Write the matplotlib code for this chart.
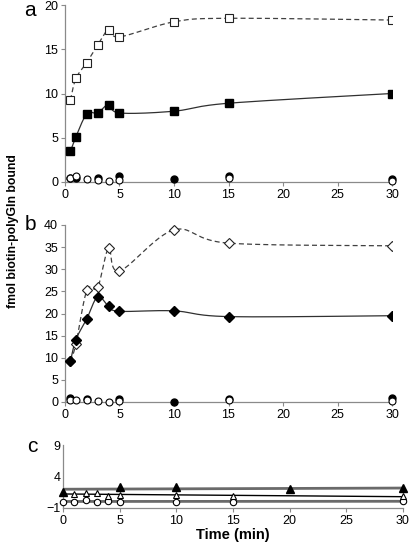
import numpy as np
import matplotlib
matplotlib.use("Agg")
import matplotlib.pyplot as plt

plt.rcParams['font.family'] = ['Liberation Sans', 'DejaVu Sans']

# ---- data ----
t_a = [0.5, 1, 2, 3, 4, 5, 10, 15, 30]
a_open_sq = [9.25, 11.7, 13.5, 15.5, 17.2, 16.4, 18.1, 18.5, 18.3]
a_fill_sq = [3.5, 5.1, 7.7, 7.8, 8.75, 7.8, 8.0, 8.9, 10.0]
a_fill_c_t = [0.5, 1, 3, 5, 10, 15, 30]
a_fill_c = [0.5, 0.4, 0.5, 0.7, 0.3, 0.7, 0.3]
a_open_c_t = [0.5, 1, 2, 3, 4, 5, 15, 30]
a_open_c = [0.5, 0.7, 0.35, 0.2, 0.1, 0.2, 0.4, 0.15]

t_b = [0.5, 1, 2, 3, 4, 5, 10, 15, 30]
b_open_d = [9.2, 13.1, 25.2, 25.9, 34.7, 29.6, 38.9, 35.9, 35.3]
b_fill_d = [9.2, 14.1, 18.8, 23.8, 21.6, 20.5, 20.6, 19.3, 19.5]
b_fill_c_t = [0.5, 2, 5, 10, 15, 30]
b_fill_c = [1.0, 0.7, 0.7, 0.0, 0.6, 1.0]
b_open_c_t = [0.5, 1, 2, 3, 4, 5, 15, 30]
b_open_c = [0.5, 0.4, 0.4, 0.3, 0.1, 0.3, 0.4, 0.2]

c_fill_tri_t = [0, 5, 10, 20, 30]
c_fill_tri = [1.6, 2.3, 2.3, 2.0, 2.1]
c_open_tri_t = [1, 2, 3, 4, 5, 10, 15, 30]
c_open_tri = [1.3, 1.4, 1.4, 0.9, 1.0, 1.0, 0.9, 0.9]
c_open_c_t = [0, 1, 2, 3, 4, 5, 10, 15, 30]
c_open_c = [0.0, 0.0, 0.2, 0.0, 0.1, 0.0, 0.0, 0.0, 0.1]

x_ticks = [0, 5, 10, 15, 20, 25, 30]


def smooth(x, y, n=24):
    """Excel-like smoothed line (uniform Catmull-Rom / Bezier)."""
    P = np.column_stack([x, y]).astype(float)
    out = []
    for i in range(len(P) - 1):
        p0 = P[i - 1] if i > 0 else P[i]
        p1, p2 = P[i], P[i + 1]
        p3 = P[i + 2] if i + 2 < len(P) else P[i + 1]
        c1 = p1 + (p2 - p0) / 6.0
        c2 = p2 - (p3 - p1) / 6.0
        s = np.linspace(0, 1, n)[:, None]
        seg = ((1 - s) ** 3) * p1 + 3 * ((1 - s) ** 2) * s * c1 + 3 * (1 - s) * s ** 2 * c2 + s ** 3 * p2
        out.append(seg if i == 0 else seg[1:])
    seg = np.vstack(out)
    return seg[:, 0], seg[:, 1]


W, H = 410, 543
fig = plt.figure(figsize=(W / 100, H / 100), dpi=100)


def style(ax):
    for s in ['top', 'right']:
        ax.spines[s].set_visible(False)
    for s in ['left', 'bottom']:
        ax.spines[s].set_color('#8a8a8a')
        ax.spines[s].set_linewidth(0.9)
    ax.tick_params(axis='both', colors='#8a8a8a', labelcolor='black', labelsize=9,
                   length=3, width=0.8, pad=2)
    ax.set_xlim(0, 30)
    ax.set_xticks(x_ticks)


# Panel a
axa = fig.add_axes([65 / W, 1 - 182 / H, 327 / W, 177 / H])
style(axa)
axa.set_ylim(0, 20)
axa.set_yticks([0, 5, 10, 15, 20])
xs, ys = smooth(t_a, a_open_sq)
axa.plot(xs, ys, ls=(0, (4, 2.5)), color='#404040', lw=0.9, zorder=2)
axa.plot(t_a, a_open_sq, ls='none', marker='s', ms=5.2, mfc='white', mec='#222222', mew=0.8, zorder=3)
xs, ys = smooth(t_a, a_fill_sq)
axa.plot(xs, ys, ls='-', color='#303030', lw=0.9, zorder=2)
axa.plot(t_a, a_fill_sq, ls='none', marker='s', ms=5.2, mfc='black', mec='black', zorder=3)
axa.plot(a_fill_c_t, a_fill_c, ls='none', marker='o', ms=5, mfc='black', mec='black', zorder=3, clip_on=False)
axa.plot(a_open_c_t, a_open_c, ls='none', marker='o', ms=5, mfc='white', mec='black', mew=0.8, zorder=4, clip_on=False)
fig.text(30 / W, 1 - 10 / H, 'a', fontsize=15, ha='center', va='center')

# Panel b
axb = fig.add_axes([65 / W, 1 - 402 / H, 327 / W, 177 / H])
style(axb)
axb.set_ylim(0, 40)
axb.set_yticks(list(range(0, 41, 5)))
xs, ys = smooth(t_b, b_open_d)
axb.plot(xs, ys, ls=(0, (4, 2.5)), color='#404040', lw=0.9, zorder=2)
axb.plot(t_b, b_open_d, ls='none', marker='D', ms=4.6, mfc='white', mec='#222222', mew=0.8, zorder=3)
xs, ys = smooth(t_b, b_fill_d)
axb.plot(xs, ys, ls='-', color='#303030', lw=0.9, zorder=2)
axb.plot(t_b, b_fill_d, ls='none', marker='D', ms=4.6, mfc='black', mec='black', zorder=3)
axb.plot(b_fill_c_t, b_fill_c, ls='none', marker='o', ms=5, mfc='black', mec='black', zorder=3, clip_on=False)
axb.plot(b_open_c_t, b_open_c, ls='none', marker='o', ms=5, mfc='white', mec='black', mew=0.8, zorder=4, clip_on=False)
fig.text(30 / W, 1 - 225 / H, 'b', fontsize=15, ha='center', va='center')

# Panel c
axc = fig.add_axes([63 / W, 1 - 508 / H, 340 / W, 63 / H])
style(axc)
axc.set_ylim(-1, 9)
axc.set_yticks([-1, 4, 9])
axc.tick_params(axis='y', length=0)
xx = np.array([0, 30])
for tt, vv, col, lw in [(c_fill_tri_t, c_fill_tri, '#6a6a6a', 2.0),
                        (c_open_tri_t, c_open_tri, 'black', 1.0),
                        (c_open_c_t, c_open_c, '#6a6a6a', 2.0)]:
    k, b = np.polyfit(tt, vv, 1)
    axc.plot(xx, k * xx + b, color=col, lw=lw, zorder=2, solid_capstyle='butt')
axc.plot(c_open_c_t, c_open_c, ls='none', marker='o', ms=4.6, mfc='white', mec='black', mew=0.8, zorder=3, clip_on=False)
axc.plot(c_open_tri_t, c_open_tri, ls='none', marker='^', ms=5, mfc='white', mec='black', mew=0.8, zorder=4, clip_on=False)
axc.plot(c_fill_tri_t, c_fill_tri, ls='none', marker='^', ms=5.5, mfc='black', mec='black', zorder=5, clip_on=False)
axc.set_xlabel('Time (min)', fontsize=10.5, fontweight='bold', labelpad=1)
fig.text(32 / W, 1 - 446 / H, 'c', fontsize=15, ha='center', va='center')

fig.text(13 / W, 1 - 231 / H, 'fmol biotin-polyGln bound', rotation=90, fontsize=8.8,
         fontweight='bold', ha='center', va='center')

fig.savefig('out.png', dpi=100)
